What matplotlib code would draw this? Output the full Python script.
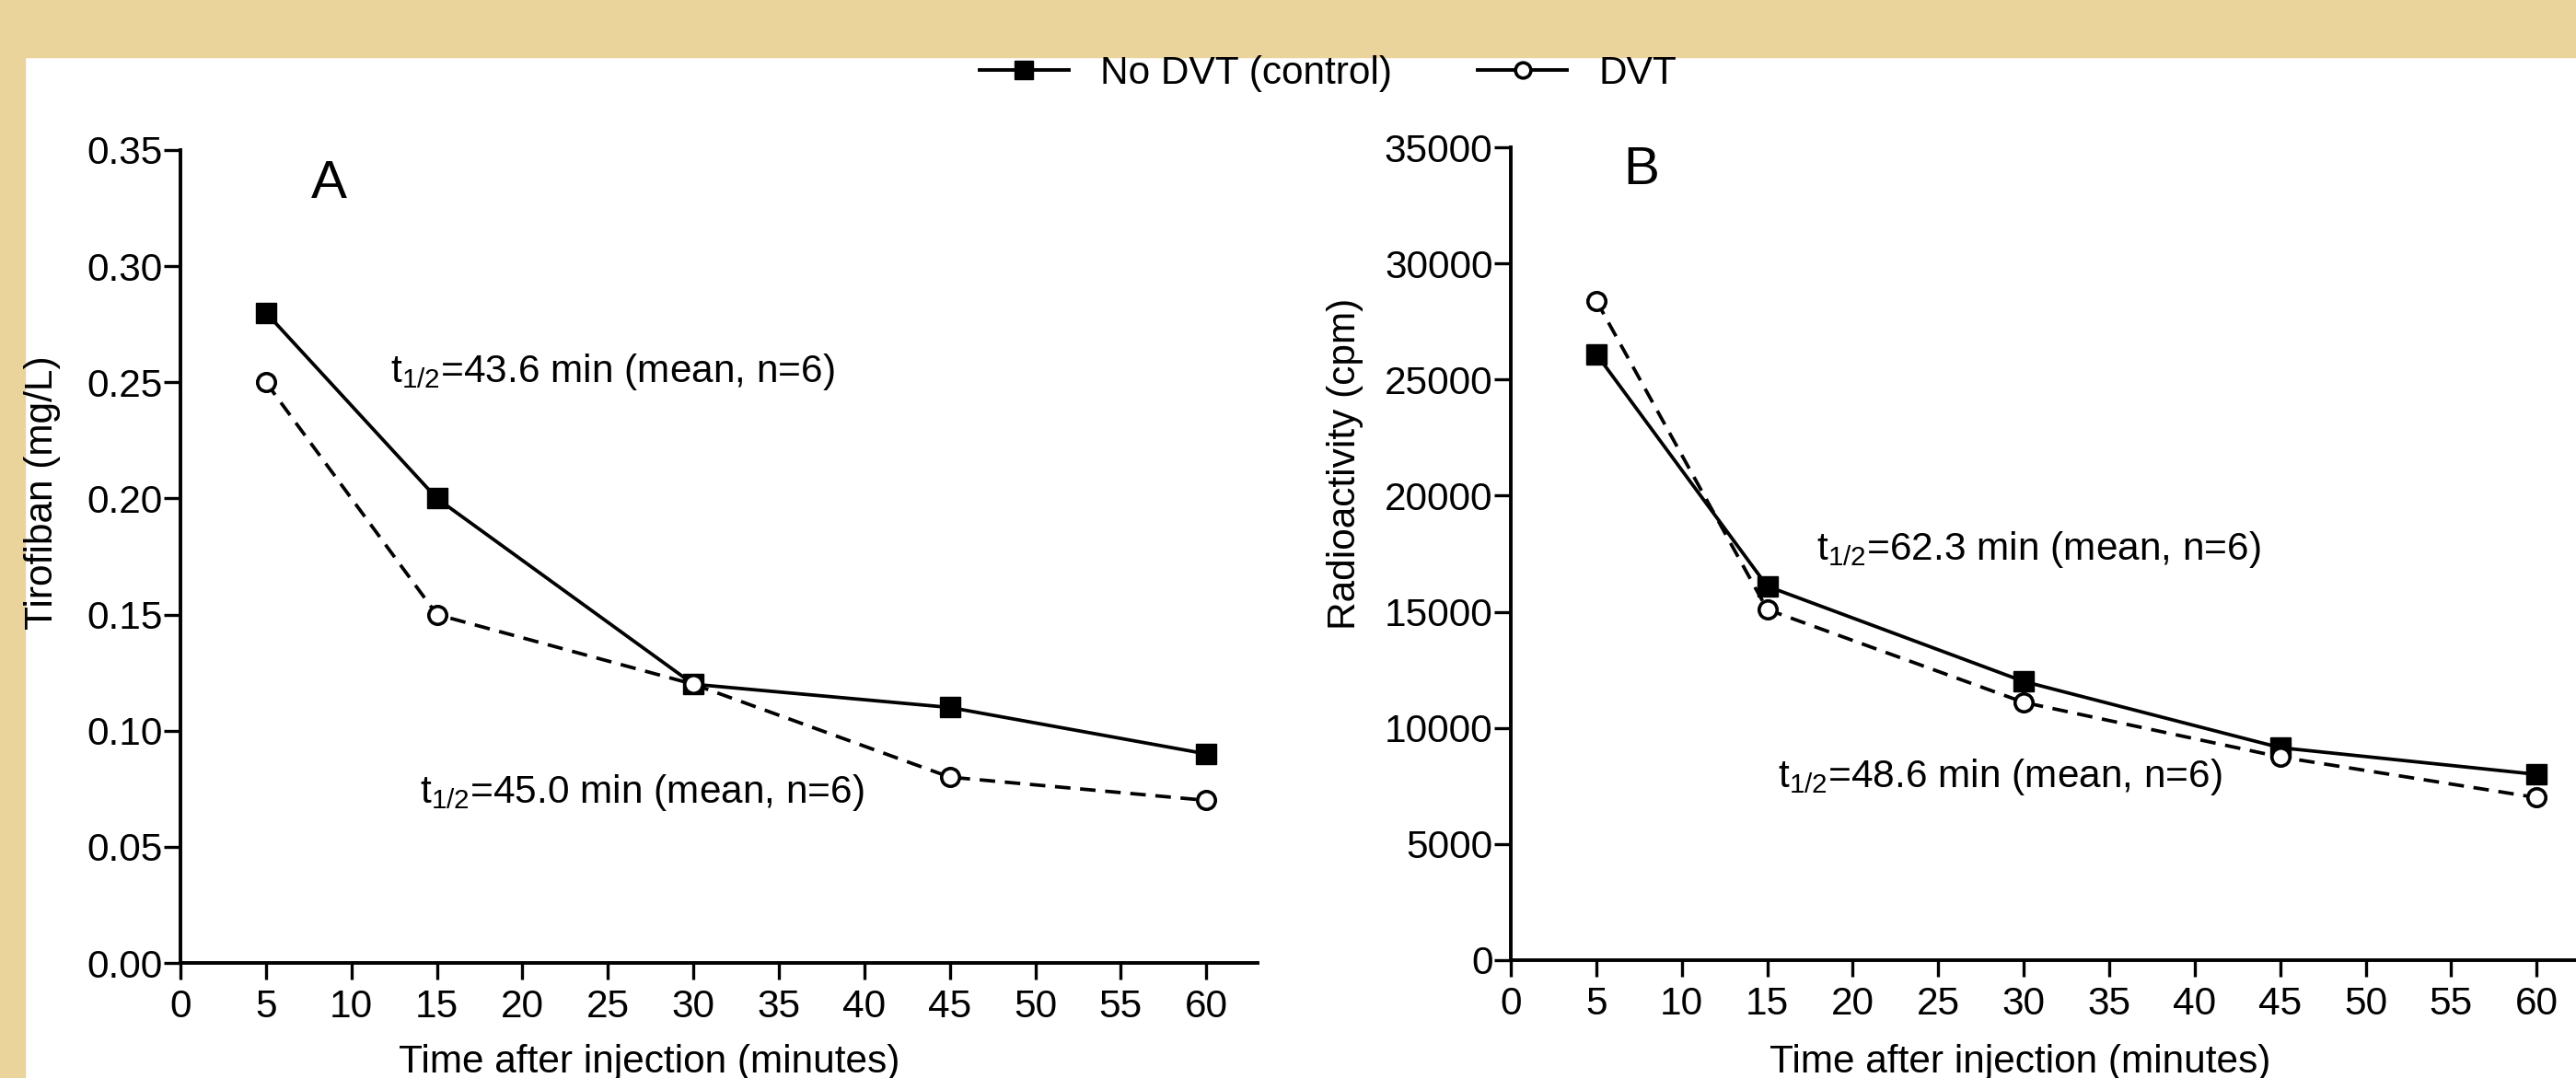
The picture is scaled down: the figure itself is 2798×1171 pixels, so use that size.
import matplotlib
matplotlib.use("Agg")
import matplotlib.pyplot as plt
from matplotlib.lines import Line2D
from matplotlib.patches import Rectangle

plt.rcParams["font.family"] = ["Liberation Sans", "DejaVu Sans"]
plt.rcParams["mathtext.fontset"] = "custom"
plt.rcParams["mathtext.rm"] = "Liberation Sans"
plt.rcParams["mathtext.it"] = "Liberation Sans"
plt.rcParams["mathtext.default"] = "regular"

# --- data ---
time_min = [5, 15, 30, 45, 60]
tirofiban_control = [0.28, 0.20, 0.12, 0.11, 0.09]
tirofiban_dvt = [0.25, 0.15, 0.12, 0.08, 0.07]
cpm_control = [26100, 16100, 12000, 9150, 8000]
cpm_dvt = [28400, 15100, 11100, 8750, 7000]

x_ticks = list(range(0, 61, 5))
ticks_a = [0.00, 0.05, 0.10, 0.15, 0.20, 0.25, 0.30, 0.35]
ticks_b = [0, 5000, 10000, 15000, 20000, 25000, 30000, 35000]

label_control = "No DVT (control)"
label_dvt = "DVT"
xlabel = "Time after injection (minutes)"

FS = 30.5
TAN = "#EAD49B"

fig = plt.figure(figsize=(27.98, 11.71), dpi=100, facecolor="white")

# textured frame from the original slide, kept as flat strips
fig.patches.append(Rectangle((0, 1 - 62 / 1171), 1, 62 / 1171,
                             transform=fig.transFigure, color=TAN, zorder=-5))
fig.patches.append(Rectangle((0, 0), 27 / 2798, 1,
                             transform=fig.transFigure, color=TAN, zorder=-5))

ax_a = fig.add_axes([196 / 2798, 125 / 1171, 1170 / 2798, 883 / 1171])
ax_b = fig.add_axes([1641 / 2798, 128 / 1171, 1170 / 2798, 883 / 1171])

ctrl_style = dict(color="black", lw=2.7, marker="s", markersize=15.5,
                  markerfacecolor="black", markeredgecolor="black", zorder=3)
dvt_style = dict(color="black", lw=2.7, dashes=(4.5, 2.8), marker="o",
                 markersize=14, markerfacecolor="white", markeredgecolor="black",
                 markeredgewidth=2.6, zorder=4)


def style_axes(ax, ylim, yticks, fmt):
    ax.set_xlim(0, 63)
    ax.set_ylim(*ylim)
    ax.set_xticks(x_ticks)
    ax.set_yticks(yticks)
    ax.set_yticklabels([fmt(v) for v in yticks])
    for side in ("top", "right"):
        ax.spines[side].set_visible(False)
    for side in ("left", "bottom"):
        ax.spines[side].set_linewidth(2.8)
    ax.tick_params(axis="both", direction="out", length=13, width=2.4,
                   labelsize=FS)
    ax.tick_params(axis="y", pad=1)
    ax.tick_params(axis="x", pad=7)
    ax.set_facecolor("none")


# panel A
ax_a.plot(time_min, tirofiban_control, **ctrl_style)
ax_a.plot(time_min, tirofiban_dvt, **dvt_style)
style_axes(ax_a, (0, 0.35), ticks_a, lambda v: f"{v:.2f}")
ax_a.set_ylabel("Tirofiban (mg/L)", fontsize=FS, va="center")
ax_a.yaxis.set_label_coords(-0.128, 0.579)
ax_a.set_xlabel(xlabel, fontsize=FS)
ax_a.xaxis.set_label_coords(0.435, -0.100)
ax_a.text(8.67, 0.3355, "A", fontsize=42, ha="center", va="center")
ax_a.text(12.3, 0.250, "t$_{1/2}$=43.6 min (mean, n=6)", fontsize=FS,
          ha="left", va="baseline")
ax_a.text(14.0, 0.069, "t$_{1/2}$=45.0 min (mean, n=6)", fontsize=FS,
          ha="left", va="baseline")

# panel B
ax_b.plot(time_min, cpm_control, **ctrl_style)
ax_b.plot(time_min, cpm_dvt, **dvt_style)
style_axes(ax_b, (0, 35000), ticks_b, lambda v: f"{v:d}")
ax_b.set_ylabel("Radioactivity (cpm)", fontsize=FS, va="center")
ax_b.yaxis.set_label_coords(-0.154, 0.610)
ax_b.set_xlabel(xlabel, fontsize=FS)
ax_b.xaxis.set_label_coords(0.473, -0.103)
ax_b.text(7.65, 34000, "B", fontsize=42, ha="center", va="center")
ax_b.text(17.9, 17260, "t$_{1/2}$=62.3 min (mean, n=6)", fontsize=FS,
          ha="left", va="baseline")
ax_b.text(15.6, 7440, "t$_{1/2}$=48.6 min (mean, n=6)", fontsize=FS,
          ha="left", va="baseline")

# shared legend across the top
handles = [
    Line2D([0], [0], color="black", lw=2.8, marker="s", markersize=15,
           markerfacecolor="black", markeredgecolor="black"),
    Line2D([0], [0], color="black", lw=2.8, marker="o", markersize=12,
           markerfacecolor="white", markeredgecolor="black", markeredgewidth=2.6),
]
fig.legend(handles, [label_control, label_dvt], loc="center",
           bbox_to_anchor=(0.5155, 1 - 80 / 1171), ncol=2, frameon=False,
           fontsize=FS, handlelength=2.3, handletextpad=0.8,
           columnspacing=2.2, borderpad=0, borderaxespad=0)

fig.savefig("out.png", dpi=100)
